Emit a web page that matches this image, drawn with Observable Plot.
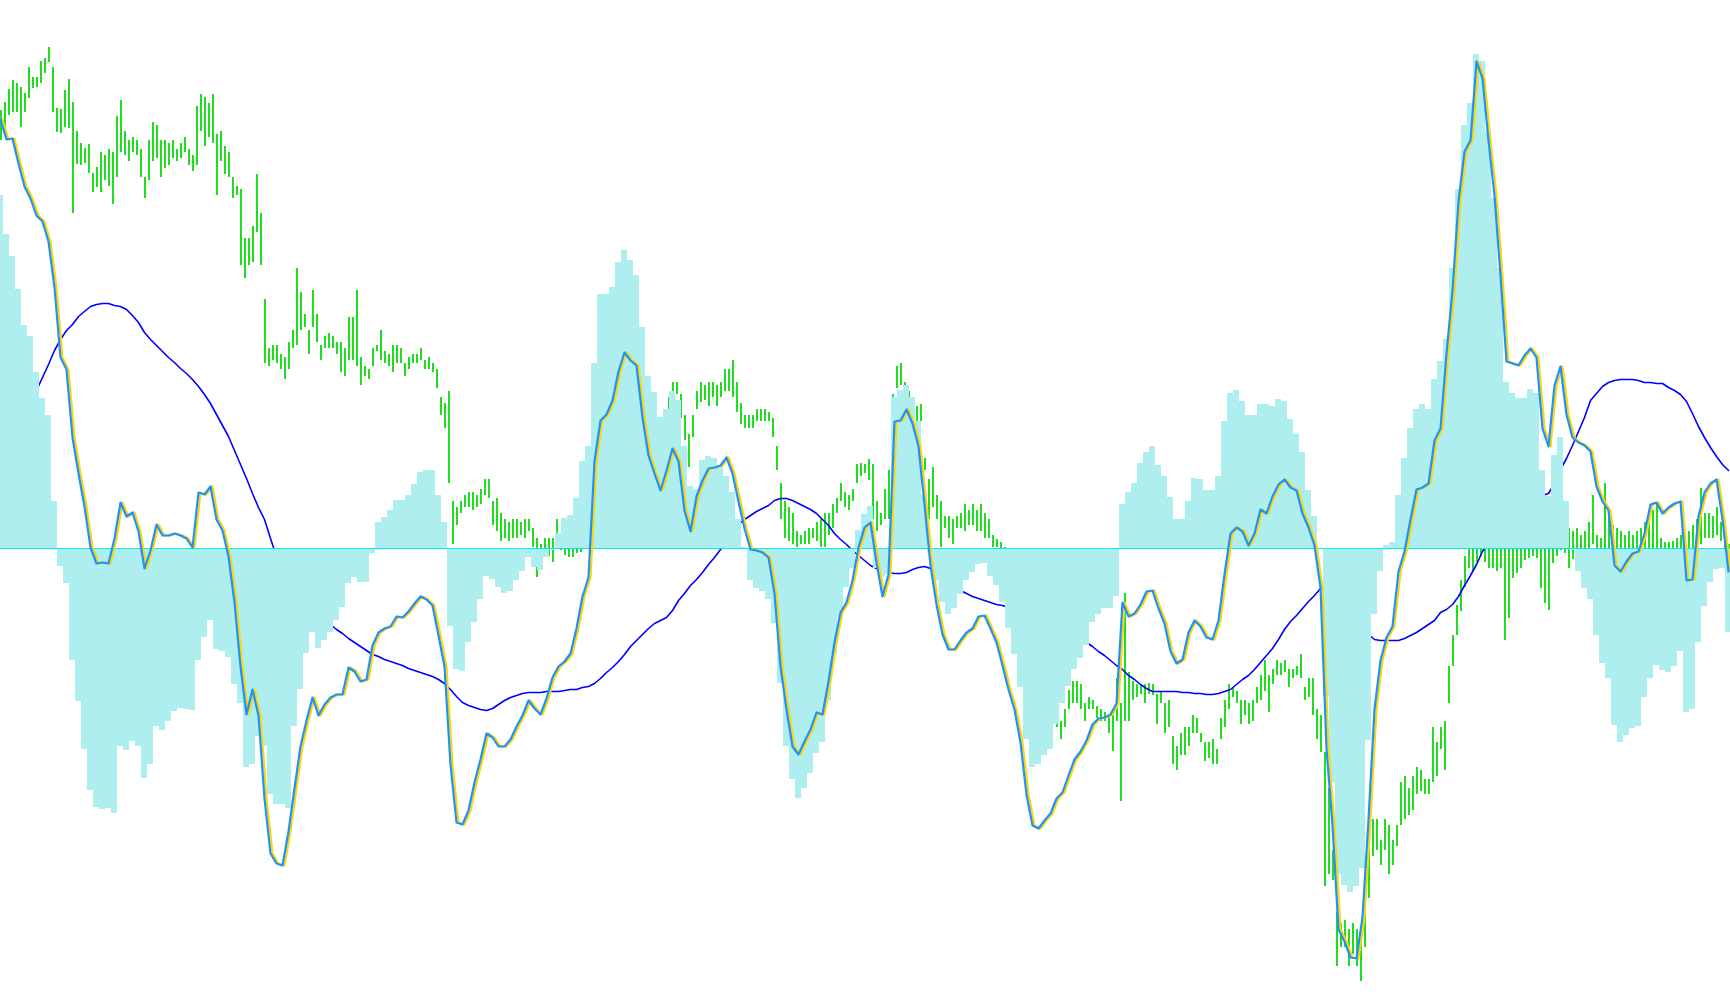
<!DOCTYPE html>
<html><head><meta charset="utf-8">
<script src="https://cdn.jsdelivr.net/npm/d3@7"></script>
<script src="https://cdn.jsdelivr.net/npm/@observablehq/plot@0.6"></script>
<style>html,body{margin:0;padding:0;background:#fff;overflow:hidden}#chart svg{display:block}</style>
</head><body><div id="chart"></div>
<script>
// Oscillator main line (sampled every 3 bars)
const mainLine = [
429,409,410,385,362,350,333,327,307,261,191,179,111,75,42,1,-15,-14,-15,10,46,32,36,17,-20,-2,24,13,13,15,13,10,1,56,54,62,29,18,-8,-54,-118,-166,-141,-167,-250,-305,-315,-317,-283,
-240,-198,-172,-149,-167,-156,-149,-146,-146,-119,-123,-133,-131,-97,-84,-80,-78,-68,-69,-63,-55,-48,-51,-57,-87,-118,-216,-274,-276,-262,-234,-211,-185,-189,-198,-198,-191,-178,-167,-152,-160,-166,-150,-129,-118,-113,-105,-80,
-48,-29,87,128,134,148,177,196,188,183,131,93,75,58,78,100,87,38,17,52,68,80,81,83,91,75,47,20,-1,-2,-4,-9,-45,-118,-161,-198,-206,-193,-181,-164,-166,-133,-94,-64,-54,-32,1,21,
26,-14,-48,-26,127,128,139,125,102,44,-17,-56,-86,-101,-101,-92,-84,-80,-68,-67,-80,-94,-117,-141,-161,-194,-246,-277,-280,-272,-265,-250,-244,-227,-211,-203,-192,-176,-170,-169,-166,-155,-54,-68,-65,-56,-43,-42,
-60,-75,-103,-115,-111,-84,-72,-78,-89,-91,-72,-26,15,21,17,3,15,39,35,52,64,69,61,58,35,21,3,-39,-200,-277,-381,-393,-409,-410,-369,-271,-161,-112,-89,-78,-23,-3,29,59,61,65,108,120,
195,258,347,397,408,487,470,408,353,273,187,185,183,193,200,191,120,102,163,182,134,111,106,103,97,62,47,38,-17,-23,-13,-5,-3,15,44,46,35,41,45,47,-32,-31,32,56,65,69,29,-23
];
// Slow trend line (sampled every 3 bars)
const trendLine = [
78,90,102,117,133,148,158,171,184,198,209,218,224,232,237,242,244,245,245,243,242,239,233,226,216,209,203,197,191,186,180,175,169,162,154,145,134,123,112,98,84,70,55,41,29,10,-8,-22,-34,
-44,-52,-59,-65,-70,-74,-76,-81,-85,-90,-94,-98,-102,-106,-108,-111,-113,-115,-117,-120,-122,-124,-126,-128,-131,-135,-141,-148,-154,-157,-159,-161,-162,-160,-156,-152,-149,-147,-145,-144,-144,-144,-143,-143,-143,-142,-141,-141,
-139,-138,-135,-130,-124,-119,-113,-106,-98,-92,-86,-80,-75,-72,-69,-62,-52,-45,-37,-31,-24,-16,-9,-1,7,16,24,29,33,37,40,43,48,50,50,48,45,42,39,35,29,23,15,9,4,-2,-7,-12,
-17,-20,-23,-24,-25,-25,-24,-21,-19,-18,-20,-24,-28,-32,-37,-42,-45,-48,-50,-52,-54,-56,-57,-59,-61,-64,-66,-68,-72,-74,-77,-80,-83,-86,-89,-92,-94,-98,-103,-107,-112,-117,-121,-127,-131,-136,-140,-143,
-143,-143,-143,-143,-144,-144,-145,-145,-146,-146,-145,-143,-141,-136,-131,-127,-121,-114,-107,-100,-91,-81,-73,-67,-60,-53,-47,-40,-45,-51,-57,-63,-69,-76,-82,-86,-91,-92,-92,-92,-92,-90,-87,-84,-80,-76,-72,-64,
-61,-56,-48,-37,-27,-16,-3,6,13,21,29,35,41,46,50,52,53,55,65,79,90,103,117,131,148,155,162,166,168,169,169,169,168,166,166,165,165,161,158,154,147,135,122,111,101,92,84,78
];
// Histogram (sampled every 3 bars)
const histogram = [
353,314,292,259,223,212,176,150,133,47,-18,-35,-112,-153,-201,-242,-259,-261,-260,-265,-198,-202,-193,-198,-230,-216,-178,-182,-173,-163,-160,-161,-162,-112,-89,-72,-101,-103,-109,-136,-155,-219,-216,-188,-198,-246,-256,-256,-260,
-178,-141,-105,-84,-100,-92,-84,-72,-59,-35,-29,-34,-34,-5,26,31,38,48,48,53,64,76,78,78,53,26,-78,-121,-123,-94,-74,-51,-28,-31,-39,-45,-43,-32,-23,-9,-19,-22,-9,-2,15,30,33,50,
87,102,185,254,254,261,286,298,288,273,221,172,156,131,139,157,148,102,62,59,88,92,90,83,72,56,29,1,-32,-40,-43,-51,-75,-135,-198,-231,-250,-240,-225,-205,-194,-152,-106,-68,-39,-20,18,34,
42,-20,-29,-26,151,158,163,151,127,53,-5,-32,-54,-66,-60,-46,-32,-24,-16,-15,-28,-37,-54,-80,-106,-139,-191,-219,-216,-207,-201,-176,-155,-138,-121,-110,-97,-74,-66,-60,-60,-48,44,56,65,85,96,102,
83,72,51,29,29,47,70,69,58,58,72,127,155,158,147,133,133,144,144,142,149,147,129,114,96,58,32,-1,-148,-234,-326,-337,-344,-338,-320,-192,-66,-23,3,6,53,90,120,139,144,139,169,187,
209,280,359,423,445,494,487,417,350,280,166,155,150,150,159,155,78,52,93,111,47,-2,-23,-40,-51,-87,-115,-130,-177,-194,-187,-180,-178,-149,-130,-117,-122,-124,-118,-103,-164,-161,-94,-58,-34,-21,-20,-84
];
// Price bars, every 2 bars: highs
const barHigh = [
438,446,459,468,465,461,455,481,471,471,487,490,501,481,440,439,458,469,446,417,405,400,404,375,381,
396,393,399,396,432,448,417,408,411,408,399,371,408,426,423,408,408,405,408,399,405,411,399,393,442,454,451,445,454,414,417,402,396,371,362,359,310,310,322,374,335,249,200,203,203,194,191,206,
218,280,256,234,218,258,234,203,212,215,212,206,206,200,231,231,258,191,182,179,200,203,218,197,194,203,203,200,185,191,194,194,200,188,191,185,179,151,145,157,47,41,47,53,56,56,53,59,69,69,47,50,35,29,26,29,29,26,29,29,20,10,4,10,10,10,29,4,1,1,-1,1,
8,15,30,50,65,80,90,100,95,105,110,120,115,110,120,125,120,125,120,125,128,134,151,166,166,154,133,114,133,157,166,163,166,166,163,166,179,179,188,166,145,133,133,133,139,139,139,136,130,102,65,47,41,35,17,13,17,20,20,26,29,35,35,44,50,65,56,53,59,84,85,84,
89,84,47,35,59,78,154,182,185,166,157,151,142,144,90,69,81,53,47,32,32,29,32,35,44,38,44,38,44,35,29,13,9,6,1,-8,-20,-32,-51,-69,-87,-100,-112,-125,-130,-142,-149,-155,-173,-161,-142,-133,-133,-136,-155,-149,-152,-158,-161,-164,-167,-161,-130,-155,-45,-124,-133,-136,-136,-136,-135,-136,
-146,-143,-155,-152,-188,-198,-185,-179,-179,-167,-170,-185,-194,-194,-191,-201,-170,-152,-136,-139,-143,-152,-152,-155,-152,-139,-127,-112,-127,-121,-112,-115,-112,-121,-121,-118,-106,-139,-130,-130,-161,-167,-204,-240,-302,-363,-375,-372,-381,-375,-381,-393,-357,-302,-271,-271,-292,-271,-277,-292,-277,-234,-228,-240,-228,-219,-222,-231,-231,-179,-194,-179,
-173,-118,-87,-57,-32,-8,10,17,20,17,20,17,23,20,17,29,26,23,20,17,20,23,29,32,23,20,17,17,20,29,26,20,17,20,13,17,26,53,13,10,65,35,23,20,17,13,17,13,17,20,26,29,38,44,10,6,6,7,10,13,10,17,23,29,60,35,35,32,41,26,7,4
];
// Price bars, every 2 bars: lows
const barLow = [
408,413,433,436,436,421,436,450,460,461,465,475,486,436,416,415,421,420,335,384,383,385,375,356,361,
356,368,362,344,371,396,393,387,396,393,371,350,368,387,390,371,380,383,390,387,390,396,383,377,383,417,402,411,405,353,387,374,371,350,353,283,270,283,286,316,283,185,182,188,185,179,169,179,
200,203,218,221,194,221,206,188,200,200,200,194,176,172,188,188,182,163,172,169,182,197,188,185,182,176,185,185,172,179,185,185,188,179,179,176,160,133,120,65,4,23,35,41,41,38,41,44,53,50,23,17,7,10,7,10,10,13,10,17,1,-29,-14,-5,-8,-14,1,-2,-7,-9,-9,-5,
-4,0,10,25,40,55,65,75,70,80,85,90,95,90,100,105,100,105,105,110,112,127,136,152,154,130,108,81,111,139,146,148,142,151,142,151,157,157,151,136,124,120,120,120,127,127,127,127,111,78,29,10,7,4,1,4,4,4,10,7,1,1,13,20,35,47,41,38,47,65,72,75,
68,29,17,23,29,29,126,160,163,151,142,136,127,127,78,29,41,29,1,20,10,4,20,20,17,23,23,17,17,10,10,1,1,-2,-14,-26,-45,-57,-81,-94,-118,-130,-142,-148,-155,-167,-173,-179,-191,-179,-161,-155,-155,-161,-173,-161,-161,-170,-173,-173,-185,-203,-173,-253,-173,-173,-152,-149,-146,-155,-146,-147,
-176,-155,-185,-179,-216,-222,-207,-207,-198,-185,-185,-194,-213,-210,-216,-216,-191,-179,-161,-149,-155,-176,-167,-176,-173,-155,-152,-143,-164,-136,-127,-127,-124,-139,-130,-127,-130,-152,-149,-167,-191,-204,-338,-326,-332,-418,-399,-399,-418,-406,-418,-433,-399,-350,-308,-302,-317,-302,-326,-317,-298,-277,-271,-267,-262,-246,-243,-246,-246,-234,-228,-201,
-222,-155,-118,-87,-63,-39,-20,-23,-14,-8,-14,-20,-20,-23,-20,-92,-70,-30,-25,-20,-12,-10,-8,-10,-40,-55,-62,-15,-8,-2,-5,-20,-11,-8,-8,-8,-5,4,-11,-14,-8,-8,-14,-14,-17,-20,-14,-17,-14,-8,-8,-8,-8,-5,-14,-20,-20,-17,-14,-11,-14,-11,-8,-5,4,10,10,10,13,7,-8,-14
];

const lineData = mainLine.map((v, i) => ({t: i * 3, main: v, trend: trendLine[i], hist: histogram[i]}));
const barData = barHigh.map((h, i) => ({t: i * 2, high: h, low: barLow[i]}));

const chart = Plot.plot({
  width: 1730,
  height: 1005,
  margin: 0,
  style: {background: "#ffffff"},
  x: {domain: [0, 865], axis: null},
  y: {domain: [-457, 548], axis: null},
  marks: [
    Plot.ruleX(barData, {x: "t", y1: "low", y2: "high", stroke: "#20dd20", strokeWidth: 2, shapeRendering: "crispEdges"}),
    Plot.line(lineData, {x: "t", y: "trend", stroke: "#0000ff", strokeWidth: 1.6}),
    Plot.rect(lineData, {x1: d => d.t - 1.5, x2: d => d.t + 1.5, y1: () => 0, y2: "hist", fill: "#afeeee", shapeRendering: "crispEdges"}),
    Plot.ruleY([0], {stroke: "#00eeee", strokeWidth: 1.2}),
    Plot.line(lineData, {x: "t", y: "main", stroke: "#ffd700", strokeWidth: 2.2, dx: 2}),
    Plot.line(lineData, {x: "t", y: "main", stroke: "#1e90ff", strokeWidth: 2.2})
  ]
});
document.getElementById("chart").appendChild(chart);
</script>
</body></html>
